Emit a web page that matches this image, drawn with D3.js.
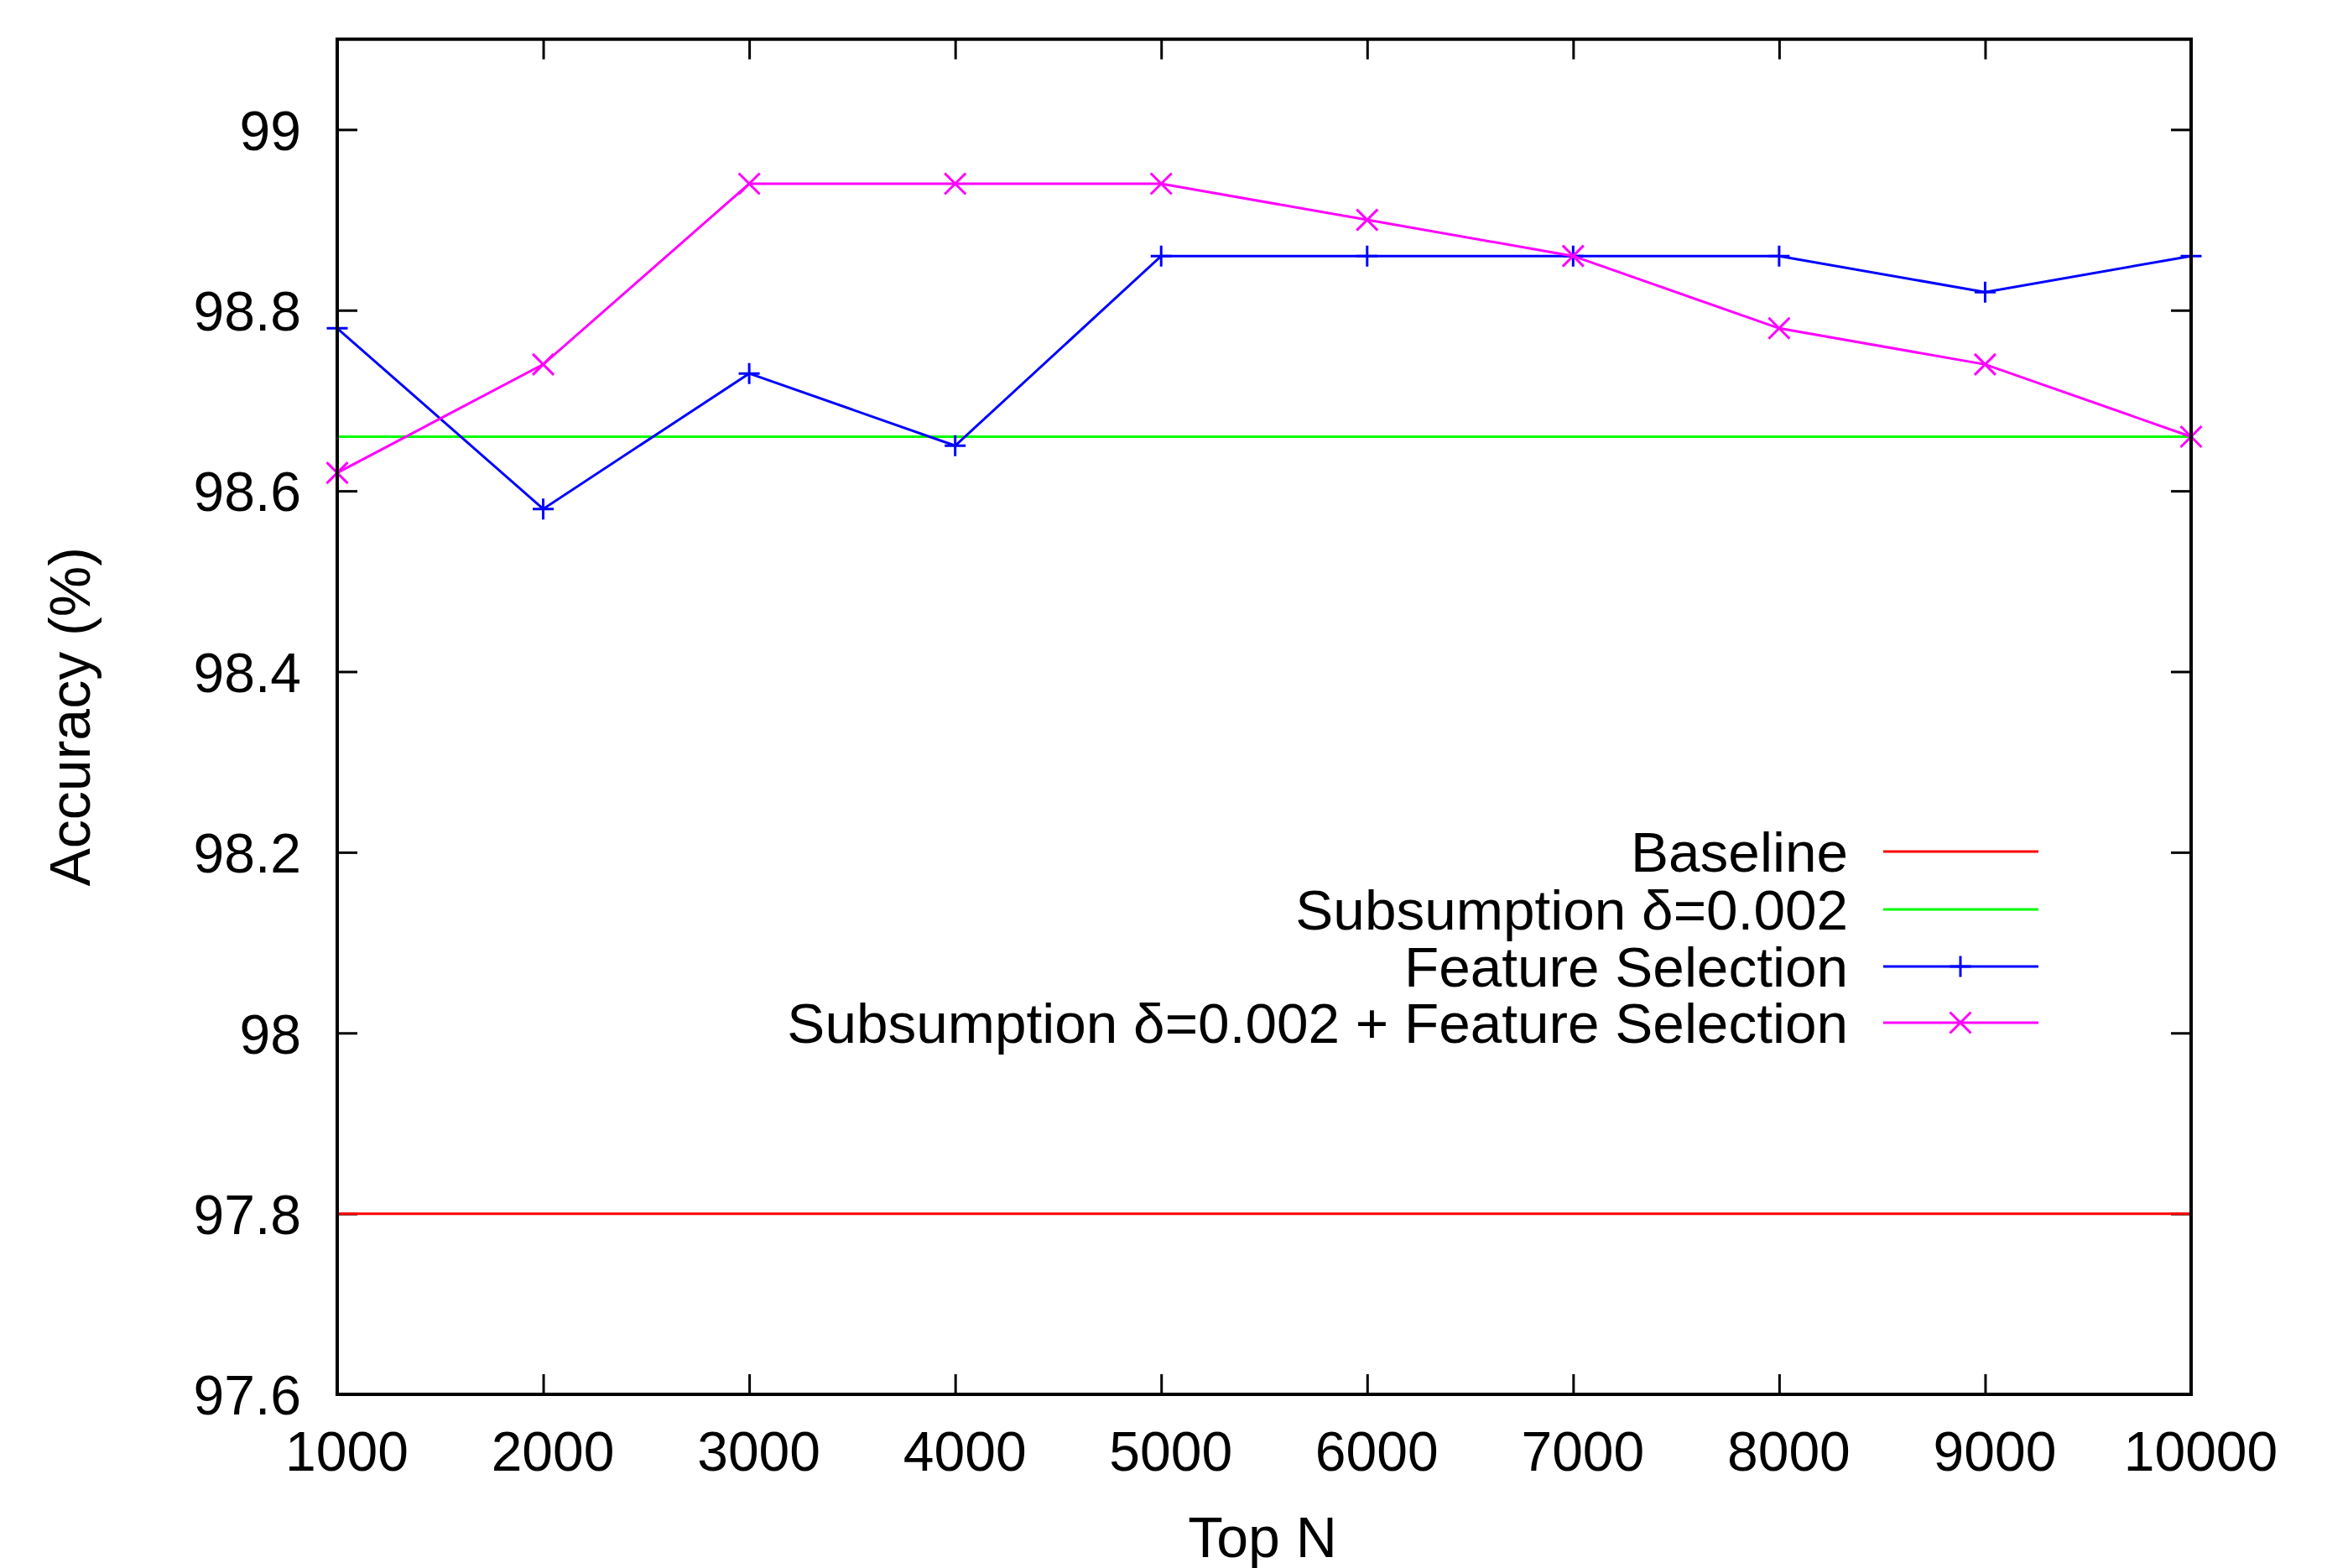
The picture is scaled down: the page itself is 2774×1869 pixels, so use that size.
<!DOCTYPE html>
<html>
<head>
<meta charset="utf-8">
<script src="https://cdn.jsdelivr.net/npm/d3@7"></script>
<style>
  body { margin: 0; background: #fff; }
  text { font-family: 'Liberation Sans', Arial, Helvetica, sans-serif; fill: #000; }
</style>
</head>
<body>
<svg id="chart" width="2774" height="1869"></svg>
<script>
// data
const topN = [1000, 2000, 3000, 4000, 5000, 6000, 7000, 8000, 9000, 10000];
const baseline = 97.8;
const subsumption = 98.66;
const featureSel = [98.78, 98.58, 98.73, 98.65, 98.86, 98.86, 98.86, 98.86, 98.82, 98.86];
const subsFeatureSel = [98.62, 98.74, 98.94, 98.94, 98.94, 98.90, 98.86, 98.78, 98.74, 98.66];
const yTicks = [97.6, 97.8, 98, 98.2, 98.4, 98.6, 98.8, 99];
const xTicks = topN;

const series = [
  {name: 'Baseline', color: '#ff0000', marker: null},
  {name: 'Subsumption δ=0.002', color: '#00ff00', marker: null},
  {name: 'Feature Selection', color: '#0000ff', marker: 'plus'},
  {name: 'Subsumption δ=0.002 + Feature Selection', color: '#ff00ff', marker: 'cross'},
];

const svg = d3.select('#chart');
const pLeft = 402; const pRight = 2612; const pTop = 46.7; const pBottom = 1662;

const x = d3.scaleLinear().domain([1000, 10000]).range([pLeft, pRight]);
const y = d3.scaleLinear().domain([97.6, 99.1]).range([pBottom, pTop]);

const tickLen = 24;
const fontTick = 66;

// bottom + top ticks (inward)
const gx = svg.append('g').attr('transform', `translate(0,${pBottom})`)
    .call(d3.axisBottom(x).tickValues(xTicks).tickSizeInner(-tickLen).tickSizeOuter(0).tickFormat(d3.format('d')));
gx.select('.domain').remove();
gx.selectAll('line').attr('stroke', '#000').attr('stroke-width', 3);
gx.selectAll('text').attr('y', 91).attr('dy', 0).attr('dx', 11)
    .style('font-size', fontTick + 'px');
gx.attr('font-family', null).attr('font-size', null);

const gxt = svg.append('g').attr('transform', `translate(0,${pTop})`)
    .call(d3.axisTop(x).tickValues(xTicks).tickSizeInner(-tickLen).tickSizeOuter(0).tickFormat(''));
gxt.select('.domain').remove();
gxt.selectAll('line').attr('stroke', '#000').attr('stroke-width', 3);

// left + right ticks
const gy = svg.append('g').attr('transform', `translate(${pLeft},0)`)
    .call(d3.axisLeft(y).tickValues(yTicks).tickSizeInner(-tickLen).tickSizeOuter(0).tickFormat(d3.format('~g')));
gy.select('.domain').remove();
gy.selectAll('line').attr('stroke', '#000').attr('stroke-width', 3);
gy.selectAll('text').attr('x', -43).attr('dy', '0.36em')
    .style('font-size', fontTick + 'px');
gy.attr('font-family', null).attr('font-size', null);

const gyr = svg.append('g').attr('transform', `translate(${pRight},0)`)
    .call(d3.axisRight(y).tickValues(yTicks).tickSizeInner(-tickLen).tickSizeOuter(0).tickFormat(''));
gyr.select('.domain').remove();
gyr.selectAll('line').attr('stroke', '#000').attr('stroke-width', 3);

// axis titles
svg.append('text').attr('x', 1505).attr('y', 1856).attr('text-anchor', 'middle')
    .style('font-size', '68px').text('Top N');
svg.append('text').attr('transform', `translate(107,${(pTop + pBottom) / 2}) rotate(-90)`)
    .attr('text-anchor', 'middle').style('font-size', '68px').text('Accuracy (%)');

// data lines
const line = d3.line().x((d) => x(d[0])).y((d) => y(d[1]));
const lineData = [
  [[xTicks[0], baseline], [xTicks[xTicks.length - 1], baseline]],
  [[xTicks[0], subsumption], [xTicks[xTicks.length - 1], subsumption]],
  topN.map((t, i) => [t, featureSel[i]]),
  topN.map((t, i) => [t, subsFeatureSel[i]]),
];

const markerPath = (type, cx, cy) => {
  const h = 12.5;
  if (type == 'plus') return `M${cx - h},${cy}H${cx + h}M${cx},${cy - h}V${cy + h}`;
  return `M${cx - h},${cy - h}L${cx + h},${cy + h}M${cx - h},${cy + h}L${cx + h},${cy - h}`;
};

series.forEach((s, si) => {
  svg.append('path').datum(lineData[si]).attr('d', line)
      .attr('fill', 'none').attr('stroke', s.color).attr('stroke-width', 3);
  if (s.marker) {
    svg.append('g').selectAll('path').data(lineData[si]).enter().append('path')
        .attr('d', (d) => markerPath(s.marker, x(d[0]), y(d[1])))
        .attr('stroke', s.color).attr('stroke-width', 3).attr('fill', 'none');
  }
});

// frame
svg.append('rect').attr('x', pLeft).attr('y', pTop).attr('width', pRight - pLeft).attr('height', pBottom - pTop)
    .attr('fill', 'none').attr('stroke', '#000').attr('stroke-width', 4);

// legend
const legendRows = [1015, 1084, 1152, 1219];
const lg = svg.append('g');
series.forEach((s, si) => {
  const ly = legendRows[si];
  lg.append('text').attr('x', 2203).attr('y', ly).attr('dy', '0.36em').attr('text-anchor', 'end')
      .style('font-size', '67.5px').text(s.name);
  lg.append('line').attr('x1', 2245).attr('x2', 2430).attr('y1', ly).attr('y2', ly)
      .attr('stroke', s.color).attr('stroke-width', 3);
  if (s.marker) {
    lg.append('path').attr('d', markerPath(s.marker, 2337, ly))
        .attr('stroke', s.color).attr('stroke-width', 3).attr('fill', 'none');
  }
});
</script>
</body>
</html>
